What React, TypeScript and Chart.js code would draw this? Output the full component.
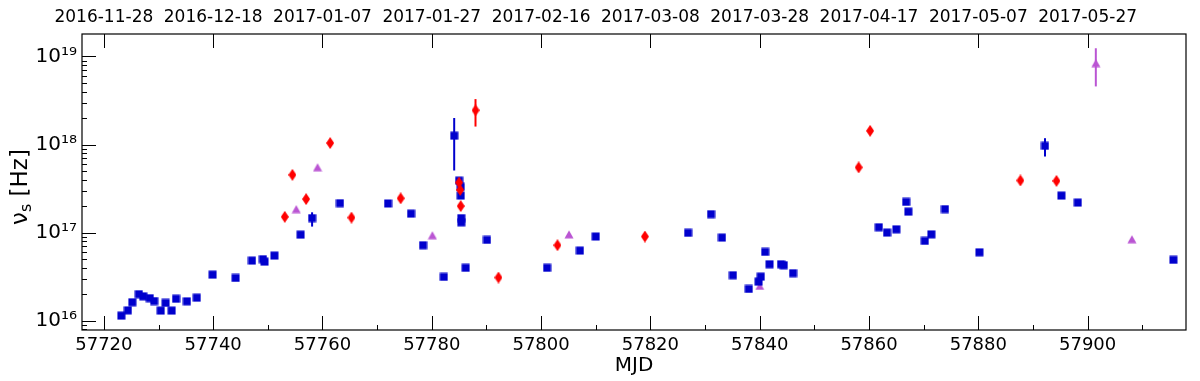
import React, { useEffect, useRef } from 'react';
import { Chart, registerables } from 'chart.js';

Chart.register(...registerables);

// ---------------- data ----------------
const xTickValues = [57720, 57740, 57760, 57780, 57800, 57820, 57840, 57860, 57880, 57900];
const yTickValues = [1e16, 1e17, 1e18, 1e19];

const blueMjd = [
  57723.2, 57724.4, 57725.2, 57726.4, 57727.2, 57728.4, 57729.2, 57730.4, 57731.3, 57732.4,
  57733.2, 57735.2, 57737.0, 57739.9, 57744.1, 57747.1, 57749.1, 57749.4, 57751.2, 57756.0,
  57758.1, 57763.2, 57772.0, 57776.2, 57778.4, 57782.2, 57784.1, 57785.0, 57785.3, 57785.3,
  57785.4, 57785.4, 57786.2, 57790.1, 57801.1, 57807.1, 57810.0, 57826.9, 57831.1, 57833.1,
  57835.1, 57838.0, 57839.8, 57840.2, 57841.0, 57841.8, 57843.9, 57844.4, 57846.1, 57861.8,
  57863.3, 57865.0, 57866.8, 57867.2, 57870.2, 57871.4, 57873.9, 57880.2, 57892.2, 57895.2,
  57898.2, 57915.7,
];
const blueNu = [
  1.14e16, 1.31e16, 1.62e16, 2.0e16, 1.89e16, 1.8e16, 1.67e16, 1.3e16, 1.59e16, 1.3e16,
  1.77e16, 1.66e16, 1.82e16, 3.33e16, 3.05e16, 4.81e16, 4.99e16, 4.68e16, 5.48e16, 9.48e16,
  1.46e17, 2.16e17, 2.14e17, 1.64e17, 7.19e16, 3.14e16, 1.26e18, 3.89e17, 3.31e17, 2.63e17,
  1.46e17, 1.31e17, 3.98e16, 8.26e16, 3.98e16, 6.24e16, 9.02e16, 9.93e16, 1.62e17, 8.77e16,
  3.28e16, 2.29e16, 2.77e16, 3.16e16, 6.03e16, 4.37e16, 4.37e16, 4.27e16, 3.46e16, 1.15e17,
  1.0e17, 1.09e17, 2.23e17, 1.73e17, 8.05e16, 9.55e16, 1.85e17, 5.98e16, 9.66e17, 2.63e17,
  2.19e17, 4.9e16,
];
const blueErrMjd = [57758.1, 57784.1, 57892.2];
const blueErrLow = [1.17e17, 5.07e17, 7.31e17];
const blueErrHigh = [1.7e17, 2.0e18, 1.18e18];

const redMjd = [
  57753.1, 57754.5, 57757.0, 57761.4, 57765.3, 57774.3, 57785.0, 57785.2, 57785.3, 57788.0,
  57792.2, 57803.0, 57819.0, 57858.1, 57860.2, 57887.7, 57894.3,
];
const redNu = [
  1.51e17, 4.53e17, 2.4e17, 1.04e18, 1.48e17, 2.45e17, 3.7e17, 3.05e17, 2.0e17, 2.45e18,
  3.09e16, 7.19e16, 9.02e16, 5.5e17, 1.43e18, 3.91e17, 3.86e17,
];
const redErrMjd = [57788.0];
const redErrLow = [1.6e18];
const redErrHigh = [3.28e18];

const purpleMjd = [57755.2, 57759.1, 57780.1, 57805.1, 57840.0, 57901.5, 57908.1];
const purpleNu = [1.85e17, 5.53e17, 9.33e16, 9.55e16, 2.48e16, 8.41e18, 8.41e16];
const purpleErrMjd = [57901.5];
const purpleErrLow = [4.57e18];
const purpleErrHigh = [1.24e19];

// ---------------- helpers ----------------
const FONT = "'DejaVu Sans', 'Noto Sans', sans-serif";
const BLUE = '#0000CD';
const RED = '#FF0000';
const PURPLE = '#BA55D3';

const SUP: Record<string, string> = {
  '0': '⁰', '1': '¹', '2': '²', '3': '³', '4': '⁴', '5': '⁵', '6': '⁶', '7': '⁷', '8': '⁸', '9': '⁹', '-': '⁻',
};
const sup = (n: number) => String(n).split('').map((c) => SUP[c] || c).join('');

function mjdToDate(mjd: number): string {
  const ms = Date.UTC(1858, 10, 17) + mjd * 86400000;
  return new Date(ms).toISOString().slice(0, 10);
}

function makeSquare(color: string) {
  const c = document.createElement('canvas');
  c.width = 9; c.height = 9;
  const g = c.getContext('2d')!;
  g.fillStyle = color;
  g.fillRect(0.5, 0.5, 8, 8);
  return c;
}
function makeDiamond(color: string) {
  const c = document.createElement('canvas');
  c.width = 8; c.height = 12;
  const g = c.getContext('2d')!;
  g.fillStyle = color;
  g.beginPath();
  g.moveTo(4, 0); g.lineTo(8, 6); g.lineTo(4, 12); g.lineTo(0, 6);
  g.closePath(); g.fill();
  return c;
}
function makeTriangle(color: string) {
  const c = document.createElement('canvas');
  c.width = 10; c.height = 9;
  const g = c.getContext('2d')!;
  g.fillStyle = color;
  g.beginPath();
  g.moveTo(5, 0.5); g.lineTo(9.5, 8.5); g.lineTo(0.5, 8.5);
  g.closePath(); g.fill();
  return c;
}

const errorBarPlugin = {
  id: 'errorBars',
  beforeDatasetsDraw(chart: any) {
    const { ctx } = chart;
    const xs = chart.scales.x;
    const ys = chart.scales.y;
    chart.data.datasets.forEach((ds: any) => {
      const eb = ds.errorBars;
      if (!eb) return;
      ctx.save();
      ctx.strokeStyle = ds.errColor;
      ctx.lineWidth = 2;
      for (let i = 0; i < eb.x.length; i++) {
        const px = xs.getPixelForValue(eb.x[i]);
        ctx.beginPath();
        ctx.moveTo(px, ys.getPixelForValue(eb.lo[i]));
        ctx.lineTo(px, ys.getPixelForValue(eb.hi[i]));
        ctx.stroke();
      }
      ctx.restore();
    });
  },
};

const frameTicksPlugin = {
  id: 'frameTicks',
  afterDraw(chart: any) {
    const { ctx, chartArea } = chart;
    const { left, right, top, bottom } = chartArea;
    const xs = chart.scales.x;
    const ys = chart.scales.y;
    ctx.save();
    ctx.strokeStyle = '#000';
    ctx.lineWidth = 1.2;
    ctx.strokeRect(left, top, right - left, bottom - top);
    ctx.lineWidth = 1;
    // x ticks (bottom: major + minor; top: major)
    for (let v = 57710; v <= 57920; v += 10) {
      const px = Math.round(xs.getPixelForValue(v)) + 0.5;
      if (px < left || px > right) continue;
      const major = v % 20 === 0;
      const len = major ? 14 : 5;
      ctx.beginPath();
      ctx.moveTo(px, bottom);
      ctx.lineTo(px, bottom - len);
      if (major) {
        ctx.moveTo(px, top);
        ctx.lineTo(px, top + 14);
      }
      ctx.stroke();
    }
    // y ticks (log)
    for (let d = 15; d <= 19; d++) {
      for (let m = 1; m <= 9; m++) {
        const v = m * Math.pow(10, d);
        if (v < ys.min || v > ys.max) continue;
        const py = Math.round(ys.getPixelForValue(v)) + 0.5;
        const len = m === 1 ? 14 : 5;
        ctx.beginPath();
        ctx.moveTo(left, py);
        ctx.lineTo(left + len, py);
        ctx.stroke();
      }
    }
    // y title: nu_s [Hz]
    ctx.translate(19, (top + bottom) / 2 + 5);
    ctx.rotate(-Math.PI / 2);
    ctx.fillStyle = '#000';
    ctx.textBaseline = 'alphabetic';
    const big = `23px ${FONT}`;
    const small = `16px ${FONT}`;
    ctx.font = big;
    const w1 = ctx.measureText('ν').width;
    const w3 = ctx.measureText(' [Hz]').width;
    ctx.font = small;
    const w2 = ctx.measureText('s').width;
    let x0 = -(w1 + w2 + w3) / 2;
    ctx.font = big;
    ctx.fillText('ν', x0, 8);
    x0 += w1;
    ctx.font = small;
    ctx.fillText('s', x0, 12);
    x0 += w2;
    ctx.font = big;
    ctx.fillText(' [Hz]', x0, 8);
    ctx.restore();
  },
};

export default function App() {
  const ref = useRef<HTMLCanvasElement>(null);
  useEffect(() => {
    if (!ref.current) return;
    const toPts = (xs: number[], ys: number[]) => xs.map((x, i) => ({ x, y: ys[i] }));
    const chart = new Chart(ref.current, {
      type: 'scatter',
      data: {
        datasets: [
          {
            label: 'red',
            data: toPts(redMjd, redNu),
            pointStyle: makeDiamond(RED),
            backgroundColor: RED,
            order: 0,
            errorBars: { x: redErrMjd, lo: redErrLow, hi: redErrHigh },
            errColor: RED,
          } as any,
          {
            label: 'blue',
            data: toPts(blueMjd, blueNu),
            pointStyle: makeSquare(BLUE),
            backgroundColor: BLUE,
            order: 1,
            errorBars: { x: blueErrMjd, lo: blueErrLow, hi: blueErrHigh },
            errColor: BLUE,
          } as any,
          {
            label: 'purple',
            data: toPts(purpleMjd, purpleNu),
            pointStyle: makeTriangle(PURPLE),
            backgroundColor: PURPLE,
            order: 2,
            errorBars: { x: purpleErrMjd, lo: purpleErrLow, hi: purpleErrHigh },
            errColor: PURPLE,
          } as any,
        ],
      },
      options: {
        responsive: false,
        animation: false,
        devicePixelRatio: 1,
        layout: { padding: { left: 0, right: 14, top: 0, bottom: 0 } },
        plugins: { legend: { display: false }, tooltip: { enabled: false } },
        scales: {
          x: {
            type: 'linear',
            position: 'bottom',
            min: 57716,
            max: 57918,
            afterBuildTicks: (s: any) => { s.ticks = xTickValues.map((v) => ({ value: v })); },
            afterFit: (s: any) => { s.height = 51; },
            ticks: {
              autoSkip: false,
              maxRotation: 0,
              padding: 5,
              color: '#000',
              font: { family: FONT, size: 18 },
              callback: (v: any) => String(v),
            },
            grid: { display: false, drawTicks: false },
            border: { display: false },
            title: {
              display: true,
              text: 'MJD',
              color: '#000',
              font: { family: FONT, size: 20 },
              padding: { top: 0, bottom: 3 },
            },
          },
          x2: {
            type: 'linear',
            position: 'top',
            min: 57716,
            max: 57918,
            afterBuildTicks: (s: any) => { s.ticks = xTickValues.map((v) => ({ value: v })); },
            afterFit: (s: any) => { s.height = 34; },
            ticks: {
              autoSkip: false,
              maxRotation: 0,
              padding: 6,
              color: '#000',
              font: { family: FONT, size: 17 },
              callback: (v: any) => mjdToDate(Number(v)),
            },
            grid: { display: false, drawTicks: false },
            border: { display: false },
          },
          y: {
            type: 'logarithmic',
            min: 7.83e15,
            max: 1.8e19,
            afterBuildTicks: (s: any) => { s.ticks = yTickValues.map((v) => ({ value: v })); },
            afterFit: (s: any) => { s.width = 82; },
            ticks: {
              autoSkip: false,
              padding: 5,
              color: '#000',
              font: { family: FONT, size: 20 },
              callback: (v: any) => '10' + sup(Math.round(Math.log10(Number(v)))),
            },
            grid: { display: false, drawTicks: false },
            border: { display: false },
          },
        },
      } as any,
      plugins: [errorBarPlugin, frameTicksPlugin],
    });
    return () => chart.destroy();
  }, []);
  return (
    <div style={{ position: 'fixed', left: 0, top: 0, width: 1200, height: 381, background: '#fff' }}>
      <canvas ref={ref} width={1200} height={381} style={{ width: 1200, height: 381, display: 'block' }} />
    </div>
  );
}
